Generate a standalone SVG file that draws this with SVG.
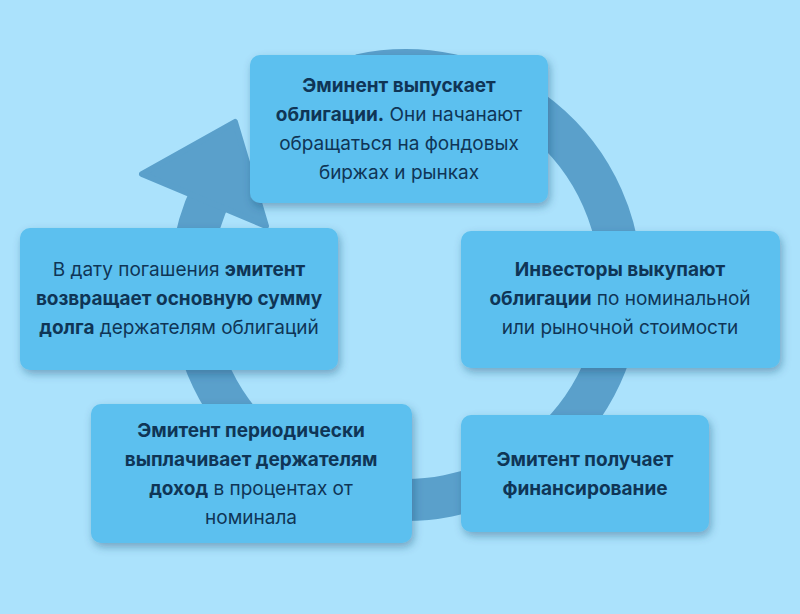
<svg xmlns="http://www.w3.org/2000/svg" width="800" height="614" viewBox="0 0 800 614">
<defs>
<filter id="sh" x="-10%" y="-10%" width="125%" height="130%"><feDropShadow dx="2" dy="4" stdDeviation="4" flood-color="#1b4a70" flood-opacity="0.4"/></filter>
<style>
.box{fill:#5bc0ef;filter:url(#sh)}
text{font-family:Inter,"Noto Sans",sans-serif;font-size:19px;fill:#0f3556;text-anchor:middle}
.b{font-weight:bold}
</style>
</defs>
<rect width="800" height="614" fill="#abe2fc"/>
<g id="connectors">
<path d="M360,75 A215,215 0 1 1 212,192" fill="none" stroke="#5aa0cb" stroke-width="42"/>
<polygon points="142,174 235,122 266,226" fill="#5aa0cb" stroke="#5aa0cb" stroke-width="6" stroke-linejoin="round"/>
</g>
<g id="n1"><rect class="box" x="250" y="55" width="298" height="148" rx="10"/>
<text x="399" y="92"><tspan class="b">Эминент выпускает</tspan></text>
<text x="399" y="121"><tspan class="b">облигации.</tspan> Они начанают</text>
<text x="399" y="150">обращаться на фондовых</text>
<text x="399" y="179">биржах и рынках</text></g>
<g id="n2"><rect class="box" x="461" y="231" width="319" height="137" rx="10"/>
<text x="620" y="276" class="b">Инвесторы выкупают</text>
<text x="620" y="305"><tspan class="b">облигации</tspan> по номинальной</text>
<text x="620" y="334">или рыночной стоимости</text></g>
<g id="n3"><rect class="box" x="461" y="415" width="248" height="117" rx="10"/>
<text x="585" y="466" class="b">Эмитент получает</text>
<text x="585" y="495" class="b">финансирование</text></g>
<g id="n4"><rect class="box" x="91" y="404" width="321" height="139" rx="10"/>
<text x="251" y="437" class="b">Эмитент периодически</text>
<text x="251" y="466" class="b">выплачивает держателям</text>
<text x="251" y="495"><tspan class="b">доход</tspan> в процентах от</text>
<text x="251" y="524">номинала</text></g>
<g id="n5"><rect class="box" x="20" y="228" width="318" height="142" rx="10"/>
<text x="179" y="276">В дату погашения <tspan class="b">эмитент</tspan></text>
<text x="179" y="305" class="b">возвращает основную сумму</text>
<text x="179" y="334"><tspan class="b">долга</tspan> держателям облигаций</text></g>
</svg>
